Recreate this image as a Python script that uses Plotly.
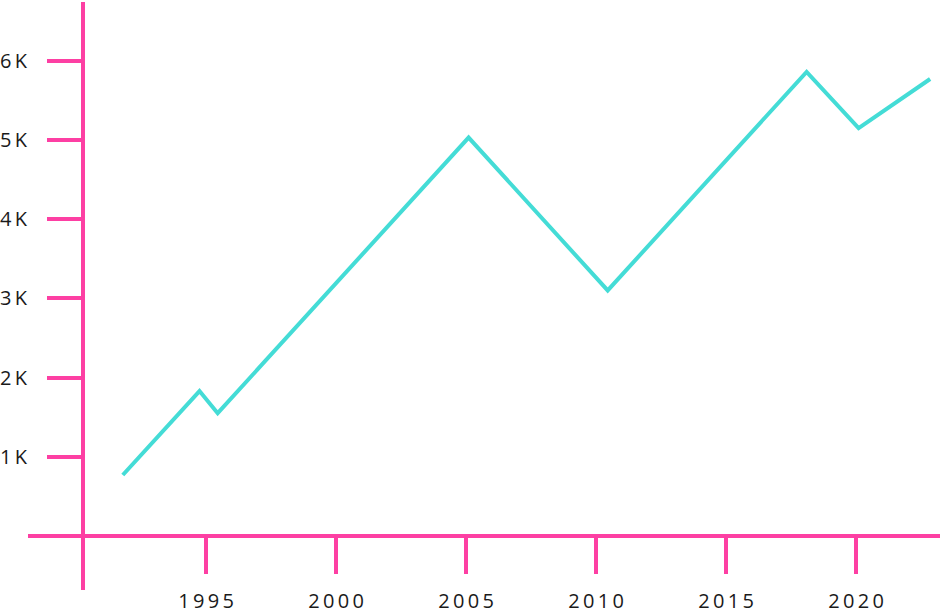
import plotly.graph_objects as go

# data
years = [1991.8, 1994.75, 1995.45, 2005.1, 2010.45, 2018.1, 2020.1, 2022.85]
values = [770, 1830, 1550, 5030, 3100, 5860, 5150, 5770]

x_ticks = [1995, 2000, 2005, 2010, 2015, 2020]
y_ticks = [1000, 2000, 3000, 4000, 5000, 6000]
y_labels = ["1K", "2K", "3K", "4K", "5K", "6K"]

PINK = "#fd3fa3"
CYAN = "#44dcd6"
SP = "\u2009"


def spaced(s):
    return SP.join(s)


fig = go.Figure()
fig.add_trace(go.Scatter(
    x=years, y=values, mode="lines",
    line=dict(color=CYAN, width=4),
    hoverinfo="x+y",
))

fig.update_layout(
    width=942, height=608,
    margin=dict(l=28, r=2, t=2, b=18, autoexpand=False),
    paper_bgcolor="white", plot_bgcolor="white",
    showlegend=False,
    font=dict(family="Open Sans", size=20, color="#1a1a1a"),
    xaxis=dict(
        range=[1988.154, 2023.23],
        anchor="free", position=0.0918, automargin=False,
        showline=True, linecolor=PINK, linewidth=4,
        showgrid=False, zeroline=False,
        ticks="outside", ticklen=36, tickwidth=4, tickcolor=PINK,
        tickvals=x_ticks, ticktext=[spaced(str(v)) for v in x_ticks],
        ticklabelstandoff=10,
    ),
    yaxis=dict(
        range=[-682, 6742],
        anchor="free", position=0.0603, automargin=False,
        showline=True, linecolor=PINK, linewidth=4,
        showgrid=False, zeroline=False,
        ticks="outside", ticklen=34, tickwidth=4, tickcolor=PINK,
        tickvals=y_ticks, ticktext=[spaced(t) for t in y_labels],
        ticklabelstandoff=16,
    ),
)

# the page body has an 8px default margin; drop it so the chart fills the window
fig.write_html(
    "out.html",
    config={"displayModeBar": False},
    post_script="document.body.style.margin='0';",
)
